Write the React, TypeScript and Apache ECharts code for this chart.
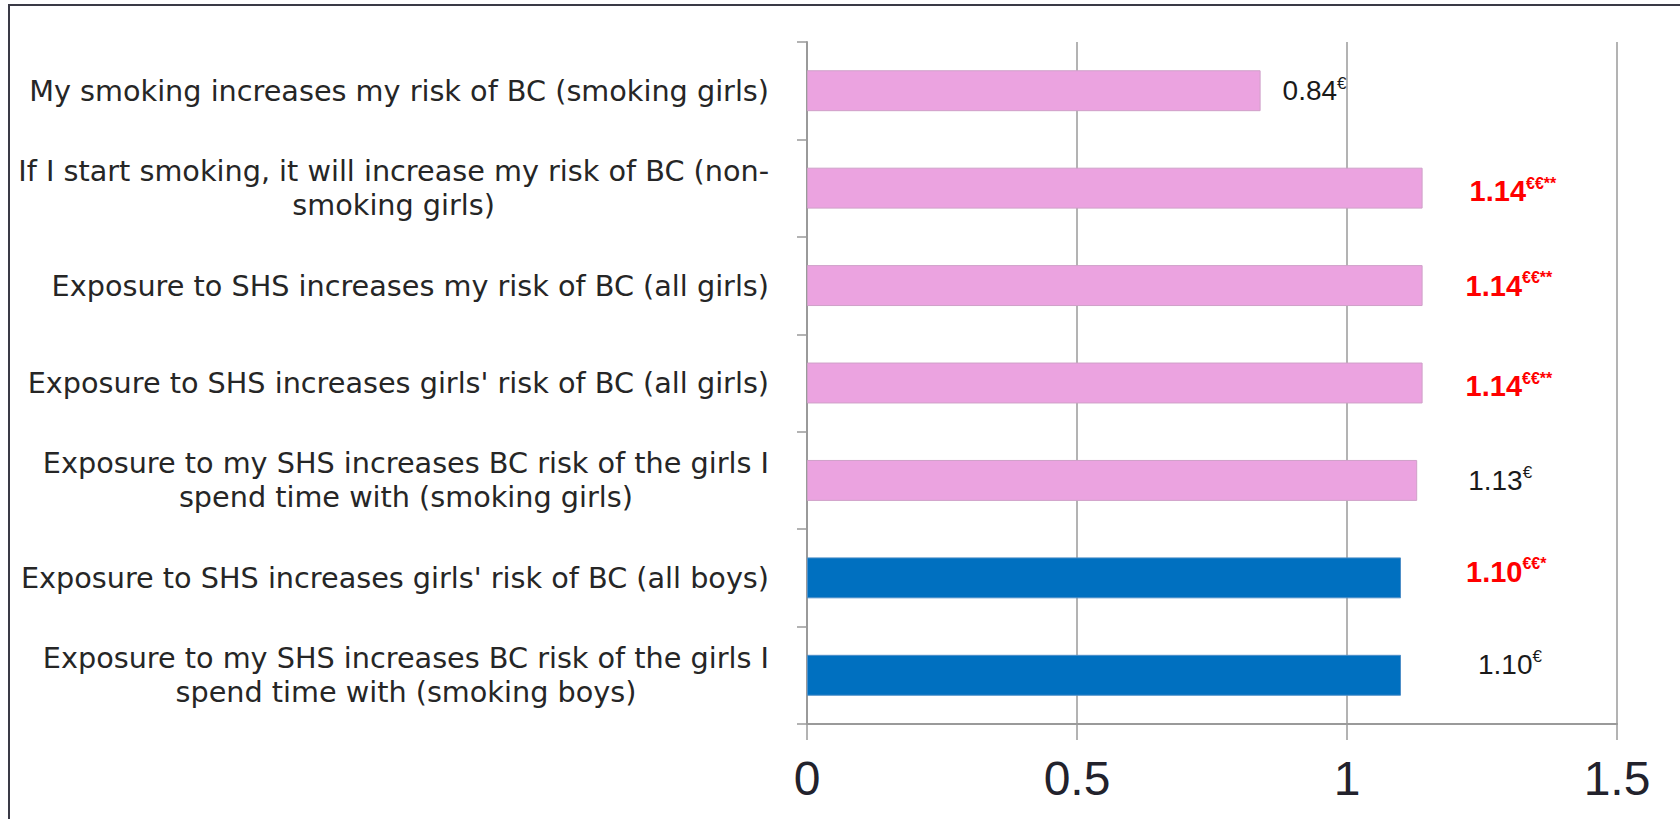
import React, { useEffect, useRef } from "react";
import * as echarts from "echarts";

// Statements (top to bottom) and their odds ratios
const categories: string[] = [
  "My smoking increases my risk of BC (smoking girls)",
  "If I start smoking, it will increase my risk of BC (non-\nsmoking girls)",
  "Exposure to SHS increases my risk of BC (all girls)",
  "Exposure to SHS increases girls' risk of BC (all girls)",
  "Exposure to my SHS increases BC risk of the girls I\nspend time with (smoking girls)",
  "Exposure to SHS increases girls' risk of BC (all boys)",
  "Exposure to my SHS increases BC risk of the girls I\nspend time with (smoking boys)",
];
const values: number[] = [0.84, 1.14, 1.14, 1.14, 1.13, 1.1, 1.1];
const groups: string[] = ["girls", "girls", "girls", "girls", "girls", "boys", "boys"];
const marks: string[] = ["€", "€€**", "€€**", "€€**", "€", "€€*", "€"];
const significant: boolean[] = [false, true, true, true, false, true, false];
const valueTicks: number[] = [0, 0.5, 1, 1.5];

// Label placement per bar: gap after bar end, vertical nudge
const labelGap: number[] = [22, 47, 43, 43, 51, 65, 77];
const labelNudge: number[] = [0, 3, 0, 3, 0, -6, -11];

const groupColor: Record<string, { fill: string; border: string }> = {
  girls: { fill: "#EBA3E0", border: "#CFA0C8" },
  boys: { fill: "#0070C0", border: "#4E8FC8" },
};

const sans = "'Liberation Sans', Arial, sans-serif";

export default function App() {
  const ref = useRef<HTMLDivElement>(null);

  useEffect(() => {
    document.body.style.margin = "0";
    document.body.style.overflow = "hidden";
    if (!ref.current) return;
    const chart = echarts.init(ref.current, undefined, { renderer: "svg" });

    const data = values.map((v, i) => ({
      value: v,
      itemStyle: {
        color: groupColor[groups[i]].fill,
        borderColor: groupColor[groups[i]].border,
        borderWidth: 1,
      },
      label: {
        distance: labelGap[i],
        offset: [0, labelNudge[i]],
      },
    }));

    chart.setOption({
      animation: false,
      backgroundColor: "#ffffff",
      graphic: [
        {
          type: "rect",
          silent: true,
          shape: { x: 9, y: 5, width: 1720, height: 900 },
          style: { fill: "none", stroke: "#3a3a46", lineWidth: 2 },
        },
      ],
      grid: { left: 807, right: 63, top: 42, bottom: 95 },
      xAxis: {
        type: "value",
        min: valueTicks[0],
        max: valueTicks[valueTicks.length - 1],
        interval: valueTicks[1] - valueTicks[0],
        axisLine: { show: true, lineStyle: { color: "#9a9a9a", width: 2 } },
        axisTick: { show: true, length: 16, lineStyle: { color: "#9a9a9a", width: 1.5 } },
        splitLine: { show: true, lineStyle: { color: "#9a9a9a", width: 1.5 } },
        axisLabel: {
          margin: 30,
          fontSize: 48,
          fontFamily: "'Liberation Sans Narrow', 'Liberation Sans', Arial, sans-serif",
          color: "#22222c",
        },
      },
      yAxis: {
        type: "category",
        inverse: true,
        data: categories,
        axisLine: { show: true, lineStyle: { color: "#9a9a9a", width: 2 } },
        axisTick: { show: true, length: 10, lineStyle: { color: "#9a9a9a", width: 1.5 } },
        axisLabel: {
          margin: 38,
          formatter: (v: string) =>
            v
              .split("\n")
              .map((line) => `{c|${line}}`)
              .join("\n"),
          rich: {
            c: {
              align: "center",
              fontSize: 28.7,
              lineHeight: 34,
              fontFamily: "'DejaVu Sans', sans-serif",
              color: "#262626",
            },
          },
        },
      },
      series: [
        {
          type: "bar",
          data,
          barCategoryGap: "58%",
          label: {
            show: true,
            position: "right",
            formatter: (p: any) => {
              const i = p.dataIndex;
              const num = Number(p.value).toFixed(2);
              return significant[i]
                ? `{nb|${num}}{sb|${marks[i]}}`
                : `{n|${num}}{s|${marks[i]}}`;
            },
            rich: {
              n: { fontSize: 28, fontFamily: sans, color: "#1a1a1a", lineHeight: 32 },
              s: {
                fontSize: 17,
                fontFamily: sans,
                color: "#1a1a1a",
                verticalAlign: "top",
                lineHeight: 32,
              },
              nb: {
                fontSize: 29,
                fontWeight: "bold",
                fontFamily: sans,
                color: "#ff0000",
                lineHeight: 32,
              },
              sb: {
                fontSize: 16,
                fontWeight: "bold",
                fontFamily: sans,
                color: "#ff0000",
                verticalAlign: "top",
                lineHeight: 32,
              },
            },
          },
        },
      ],
    });

    return () => chart.dispose();
  }, []);

  return <div ref={ref} style={{ width: 1680, height: 819 }} />;
}
